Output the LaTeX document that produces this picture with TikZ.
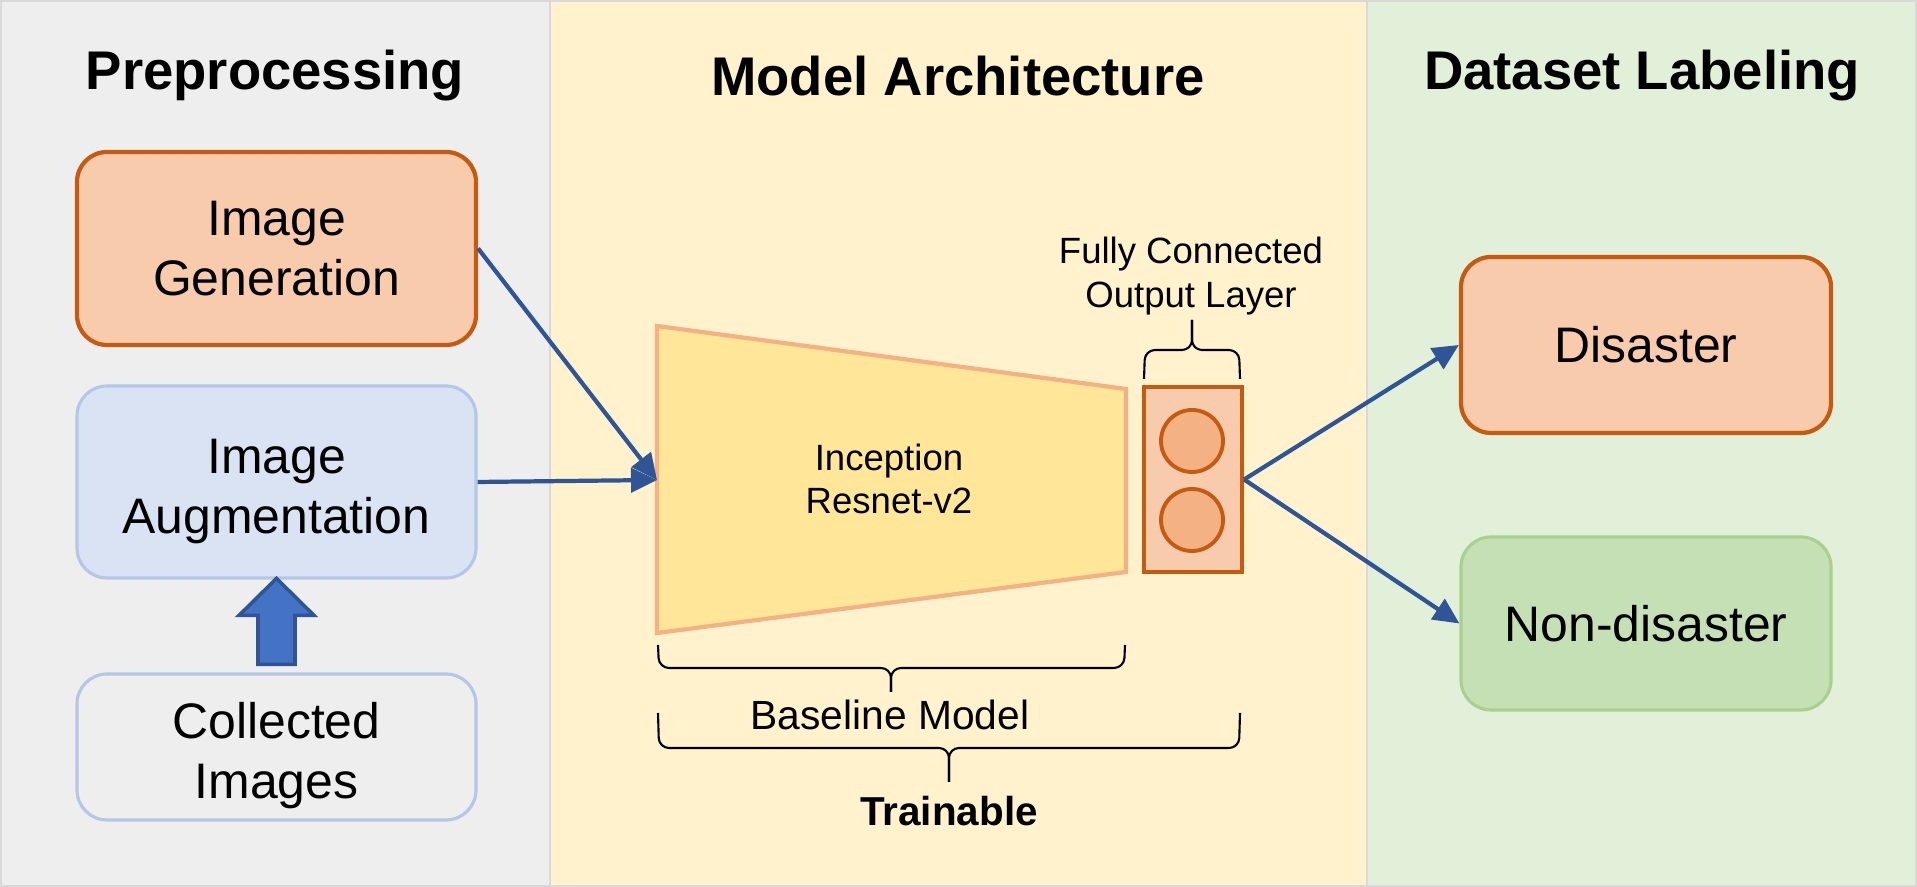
\documentclass[tikz,border=0pt]{standalone}
\usepackage{fontspec}
\setmainfont{Liberation Sans}
\usetikzlibrary{arrows.meta,calc,positioning}
\definecolor{panelgray}{HTML}{EEEEEE}
\definecolor{panelyellow}{HTML}{FFF2CC}
\definecolor{panelgreen}{HTML}{E2F0D9}
\definecolor{orangefill}{HTML}{F8CBAD}
\definecolor{orangeline}{HTML}{C55A11}
\definecolor{bluefill}{HTML}{DAE3F3}
\definecolor{blueline}{HTML}{B4C7E7}
\definecolor{flowblue}{HTML}{2F5597}
\definecolor{arrowblue}{HTML}{4472C4}
\definecolor{trapfill}{HTML}{FFE699}
\definecolor{trapline}{HTML}{F4B183}
\definecolor{greenfill}{HTML}{C5E0B4}
\definecolor{greenline}{HTML}{A9D18E}

\begin{document}
\begin{tikzpicture}[>={Triangle[length=0.26cm,width=0.24cm]},
    paneltitle/.style={font=\fontsize{15.5}{18}\selectfont\bfseries},
    stagebox/.style={rounded corners=0.3cm,minimum width=3.99cm,align=center,
      inner sep=0pt,font=\fontsize{14.2}{17.2}\selectfont},
    hotbox/.style={stagebox,fill=orangefill,draw=orangeline,line width=1.2pt},
    coolbox/.style={stagebox,fill=bluefill,draw=blueline,line width=0.9pt},
    neuron/.style={circle,minimum size=0.62cm,inner sep=0pt,
      fill=trapline,draw=orangeline,line width=1.1pt},
    flow/.style={->,draw=flowblue,line width=1.2pt},
    bracket/.style={line width=0.6pt,rounded corners=0.1cm},
    smalltext/.style={align=center,font=\fontsize{10.4}{12.4}\selectfont}]
    \useasboundingbox (0,0) rectangle (19.17,8.87);

    % Three background panels.
    \filldraw[fill=panelgray,draw=gray!30,line width=0.6pt] (0.01,0.01) rectangle (5.50,8.86);
    \filldraw[fill=panelyellow,draw=gray!30,line width=0.6pt] (5.50,0.01) rectangle (13.67,8.86);
    \filldraw[fill=panelgreen,draw=gray!30,line width=0.6pt] (13.67,0.01) rectangle (19.16,8.86);
    \node[paneltitle] (pretitle) at (2.75,8.11) {Preprocessing};
    \node[paneltitle] (modeltitle) at (9.58,8.11) {Model Architecture};
    \node[paneltitle] (labeltitle) at (16.42,8.11) {Dataset Labeling};

    % Preprocessing column.
    \node[hotbox,minimum height=1.93cm] (gen) at (2.765,6.385) {Image\\Generation};
    \node[coolbox,minimum height=1.92cm] (aug) at (2.765,4.05)
      {\rule{0pt}{0.53cm}Image\\Augmentation};
    \node[coolbox,fill=panelgray,minimum height=1.46cm] (coll) at (2.765,1.40)
      {\rule{0pt}{0.53cm}Collected\\Images};
    \filldraw[fill=arrowblue,draw=flowblue,line width=1pt,shift={(coll.north)}]
      (-0.185,0.08) -- (-0.185,0.57) -- (-0.375,0.57) -- (0,0.94)
      -- (0.375,0.57) -- (0.185,0.57) -- (0.185,0.08) -- cycle;

    % Baseline network and its output layer.
    \filldraw[fill=trapfill,draw=trapline,line width=1.2pt]
      (6.57,5.61) -- (11.26,4.98) -- (11.26,3.15) -- (6.57,2.54) -- cycle;
    \coordinate (incep) at (6.57,4.07);
    \node[smalltext] (inceptext) at (8.89,4.08) {Inception\\Resnet-v2};
    \node[fill=orangefill,draw=orangeline,line width=1.2pt,minimum width=0.98cm,
      minimum height=1.85cm] (fc) at (11.93,4.075) {};
    \node[neuron] (n1) at (11.92,4.46) {};
    \node[neuron] (n2) at (11.92,3.67) {};
    \draw[bracket] (11.44,5.08) -- (11.45,5.37) -- (11.92,5.37) -- (11.92,5.67);
    \draw[bracket] (12.40,5.08) -- (12.39,5.37) -- (11.92,5.37) -- (11.92,5.67);
    \node[smalltext] (fctext) at (11.91,6.11) {Fully Connected\\Output Layer};

    % Braces under the model.
    \draw[bracket] (6.58,2.42) -- (6.59,2.19) -- (8.91,2.19) -- (8.91,1.95);
    \draw[bracket] (11.25,2.42) -- (11.24,2.19) -- (8.91,2.19) -- (8.91,1.95);
    \node[font=\fontsize{11.6}{14}\selectfont] (basetext) at (8.90,1.72) {Baseline Model};
    \draw[bracket] (6.58,1.74) -- (6.59,1.39) -- (9.49,1.39) -- (9.49,1.05);
    \draw[bracket] (12.40,1.74) -- (12.39,1.39) -- (9.49,1.39) -- (9.49,1.05);
    \node[font=\fontsize{11.5}{14}\selectfont\bfseries] (traintext) at (9.49,0.76) {Trainable};

    % Labels.
    \node[hotbox,minimum width=3.70cm,minimum height=1.76cm] (dis) at (16.46,5.42) {Disaster};
    \node[stagebox,fill=greenfill,draw=greenline,line width=0.9pt,minimum width=3.70cm,
      minimum height=1.73cm] (nondis) at (16.46,2.635) {Non-disaster};

    % Data flow.
    \draw[flow] (gen.east) -- (incep);
    \draw[flow] (aug.east) -- (incep);
    \draw[flow] (fc.east) -- (dis.west);
    \draw[flow] (fc.east) -- (nondis.west);
  \end{tikzpicture}
\end{document}
